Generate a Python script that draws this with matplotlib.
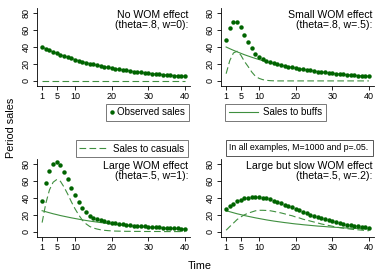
import matplotlib
matplotlib.use("Agg")
import matplotlib.pyplot as plt
from matplotlib.lines import Line2D

plt.rcParams['font.family'] = ['Liberation Sans', 'DejaVu Sans']

t = list(range(1, 41))

# sales to buffs, theta=.8 and theta=.5
buffs_8 = [40.0, 38.0, 36.1, 34.3, 32.6, 30.9, 29.4, 27.9, 26.5, 25.2,
           23.9, 22.7, 21.6, 20.5, 19.5, 18.5, 17.6, 16.7, 15.9, 15.1,
           14.3, 13.6, 12.9, 12.3, 11.7, 11.1, 10.5, 10.0, 9.5, 9.0,
           8.6, 8.2, 7.7, 7.4, 7.0, 6.6, 6.3, 6.0, 5.7, 5.4]
buffs_5 = [25.0, 23.8, 22.6, 21.4, 20.4, 19.3, 18.4, 17.5, 16.6, 15.8,
           15.0, 14.2, 13.5, 12.8, 12.2, 11.6, 11.0, 10.5, 9.9, 9.4,
           9.0, 8.5, 8.1, 7.7, 7.3, 6.9, 6.6, 6.3, 5.9, 5.6,
           5.4, 5.1, 4.8, 4.6, 4.4, 4.2, 3.9, 3.7, 3.6, 3.4]

# sales to casuals
cas_none = [0.0] * 40
cas_small = [8.5, 24.0, 33.0, 35.0, 30.5, 23.0, 17.0, 10.5, 5.5, 3.0,
             1.5, 0.7, 0.3, 0.1, 0.0, 0.0, 0.0, 0.0, 0.0, 0.0,
             0.0, 0.0, 0.0, 0.0, 0.0, 0.0, 0.0, 0.0, 0.0, 0.0,
             0.0, 0.0, 0.0, 0.0, 0.0, 0.0, 0.0, 0.0, 0.0, 0.0]
cas_large = [11.0, 33.5, 49.5, 58.6, 61.8, 59.7, 52.8, 44.5, 35.4, 27.2,
             20.0, 13.8, 9.5, 6.4, 4.6, 3.4, 2.5, 1.9, 1.5, 1.2,
             1.0, 0.9, 0.8, 0.7, 0.7, 0.6, 0.6, 0.6, 0.5, 0.5,
             0.5, 0.5, 0.5, 0.4, 0.4, 0.4, 0.4, 0.4, 0.4, 0.4]
cas_slow = [2.0, 6.3, 10.4, 14.6, 17.6, 20.2, 22.1, 23.5, 24.9, 25.5,
            25.5, 25.3, 25.0, 24.2, 23.3, 22.4, 21.3, 20.0, 19.1, 17.6,
            16.5, 15.0, 13.9, 12.8, 11.7, 10.6, 9.4, 8.5, 7.6, 6.7,
            5.8, 5.1, 4.5, 3.9, 3.3, 2.8, 2.5, 2.1, 1.7, 1.4]

titles = ["No WOM effect\n(theta=.8, w=0):",
          "Small WOM effect\n(theta=.8, w=.5):",
          "Large WOM effect\n(theta=.5, w=1):",
          "Large but slow WOM effect\n(theta=.5, w=.2):"]
panels = [(buffs_8, cas_none), (buffs_8, cas_small),
          (buffs_5, cas_large), (buffs_5, cas_slow)]

xticks = [1, 5, 10, 20, 30, 40]
yticks = [0, 20, 40, 60, 80]

dot_col = '#006400'
line_col = '#3f8f3f'

W, H = 380, 276
fig = plt.figure(figsize=(W / 100, H / 100), dpi=100)

# axes boxes in pixels: left, top, width, height
boxes = [(37, 8, 153, 78), (221, 8, 153, 78),
         (37, 159, 153, 78), (221, 159, 153, 78)]

for (l, tp, w, h), title, (b, c) in zip(boxes, titles, panels):
    ax = fig.add_axes([l / W, 1 - (tp + h) / H, w / W, h / H])
    obs = [x + y for x, y in zip(b, c)]
    ax.plot(t, b, color=line_col, lw=0.8)
    ax.plot(t, c, color=line_col, lw=0.8, ls=(0, (6, 3)))
    ax.plot(t, obs, 'o', color=dot_col, ms=3.2, mec='none')
    ax.set_xlim(-0.4, 41.4)
    ax.set_ylim(-6, 86)
    ax.set_xticks(xticks)
    ax.set_yticks(yticks)
    ax.set_yticklabels([str(v) for v in yticks], rotation=90, va='center')
    ax.tick_params(labelsize=6.5, length=3, width=0.6, pad=1.5)
    for s in ['top', 'right']:
        ax.spines[s].set_visible(False)
    for s in ['left', 'bottom']:
        ax.spines[s].set_linewidth(0.6)
    ax.text(0.99, 0.98, title, transform=ax.transAxes, ha='right', va='top',
            fontsize=7.6, linespacing=1.0)

def fig_legend(handle, label, cx, cy, hl, pad):
    leg = fig.legend([handle], [label], loc='center',
                     bbox_to_anchor=(cx / W, 1 - cy / H), fontsize=7.0,
                     frameon=True, fancybox=False, handlelength=hl,
                     borderpad=0.4, handletextpad=pad, borderaxespad=0)
    leg.get_frame().set_edgecolor('#555555')
    leg.get_frame().set_linewidth(0.7)
    return leg

fig_legend(Line2D([], [], ls='none', marker='o', color=dot_col, ms=3.2, mec='none'),
           'Observed sales', 147.5, 112.5, 0.4, 0.4)
fig_legend(Line2D([], [], color=line_col, lw=0.8), 'Sales to buffs', 275.5, 112.5, 3.0, 0.5)
fig_legend(Line2D([], [], color=line_col, lw=0.8, ls=(0, (6, 3))),
           'Sales to casuals', 132, 148.5, 3.0, 0.5)

fig.text(299 / W, 1 - 148 / H, 'In all examples, M=1000 and p=.05.',
         ha='center', va='center', fontsize=6.3,
         bbox=dict(boxstyle='square,pad=0.45', fc='white', ec='#555555', lw=0.7))

fig.text(11 / W, 1 - 128 / H, 'Period sales', rotation=90, ha='center',
         va='center', fontsize=7.8)
fig.text(200 / W, 1 - 266 / H, 'Time', ha='center', va='center', fontsize=7.8)

fig.savefig('out.png', dpi=100)
